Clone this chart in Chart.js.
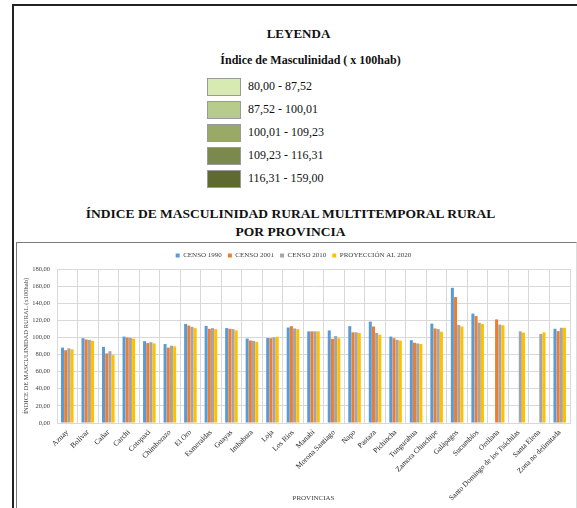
<!DOCTYPE html>
<html>
<head>
<meta charset="utf-8">
<script src="https://cdn.jsdelivr.net/npm/chart.js@4.4.1/dist/chart.umd.min.js"></script>
<style>
  html, body { margin: 0; padding: 0; width: 577px; height: 508px; overflow: hidden; background: #fff; font-family: 'Liberation Serif', serif; color: #111; }
  #frame { position: absolute; left: 12px; top: 4px; width: 620px; height: 620px; border: 2px solid #222; box-sizing: border-box; }
  .ley { position: absolute; left: 0; width: 577px; text-align: center; font-weight: bold; }
  #leyenda { top: 26px; left: 10px; font-size: 13px; }
  #subt { top: 53px; left: 22px; font-size: 12px; }
  .sw { position: absolute; left: 207px; width: 34px; height: 18px; border: 1px solid #9a9a9a; box-sizing: border-box; }
  .swl { position: absolute; left: 248px; font-size: 12px; }
  #title { top: 205px; left: 2px; font-size: 13.5px; line-height: 18px; }
  #chartBox { position: absolute; left: 16px; top: 242px; width: 561px; height: 280px; border: 1.5px solid #7a7a7a; border-right-color: #ddd; box-sizing: border-box; }
  #wrap { position: absolute; left: 17px; top: 245px; width: 559px; height: 263px; }
</style>
</head>
<body>
<div id="frame"></div>
<div class="ley" id="leyenda">LEYENDA</div>
<div class="ley" id="subt">Índice de Masculinidad ( x 100hab)</div>
<div id="legendRows"></div>
<div class="ley" id="title">ÍNDICE DE MASCULINIDAD RURAL MULTITEMPORAL RURAL<br>POR PROVINCIA</div>
<div id="chartBox"></div>
<div id="wrap"><canvas id="chart"></canvas></div>
<script>
// rangos del mapa (leyenda superior)
const rangos = ['80,00 - 87,52', '87,52 - 100,01', '100,01 - 109,23', '109,23 - 116,31', '116,31 - 159,00'];
const rangoColores = ['#d8eab4', '#b6cb8c', '#99aa67', '#7b8a4c', '#5f6a30'];

const provincias = ['Azuay', 'Bolívar', 'Cañar', 'Carchi', 'Cotopaxi', 'Chimborazo', 'El Oro', 'Esmeraldas',
    'Guayas', 'Imbabura', 'Loja', 'Los Ríos', 'Manabí', 'Morona Santiago', 'Napo', 'Pastaza', 'Pichincha',
    'Tungurahua', 'Zamora Chinchipe', 'Galápagos', 'Sucumbíos', 'Orellana', 'Santo Domingo de los Tsáchilas',
    'Santa Elena', 'Zona no delimitada'];

const censo1990 = [88.1, 99.1, 88.9, 101.0, 95.7, 92.3, 115.8, 113.5, 110.9, 98.7, 99.3, 111.6, 107.1, 108.2, 113.2, 118.5, 101.0, 96.8, 116.2, 158.0, 127.9, null, null, null, 110.1];
const censo2001 = [85.1, 97.6, 81.3, 99.9, 93.4, 88.1, 113.9, 110.1, 110.1, 96.4, 99.1, 113.2, 107.1, 98.3, 106.0, 112.8, 99.1, 93.8, 110.5, 147.3, 125.0, 121.1, null, null, 107.4];
const censo2010 = [87.3, 97.2, 83.9, 99.5, 94.5, 90.4, 112.4, 110.9, 109.7, 96.0, 100.2, 110.5, 107.1, 101.7, 106.0, 105.2, 97.2, 93.0, 109.7, 114.7, 117.3, 115.1, 107.1, 104.0, 111.3];
const proy2020  = [86.2, 96.1, 79.4, 98.7, 93.0, 89.6, 110.9, 109.7, 108.2, 94.9, 100.8, 109.7, 107.1, 99.1, 105.2, 103.3, 96.4, 92.3, 106.7, 112.8, 115.8, 114.3, 105.6, 106.0, 111.3];

const yTicks = [0, 20, 40, 60, 80, 100, 120, 140, 160, 180];

// leyenda superior
const rowsEl = document.getElementById('legendRows');
rangos.forEach((r, i) => {
    const top = 78 + i * 23;
    rowsEl.innerHTML += '<div class="sw" style="top:' + top + 'px;background:' + rangoColores[i] + '"></div>'
                      + '<div class="swl" style="top:' + (top + 1) + 'px">' + r + '</div>';
});

const serif = 'Liberation Serif';
const fmt = v => v.toFixed(2).replace('.', ',');

new Chart(document.getElementById('chart'), {
    type: 'bar',
    data: {
        labels: provincias,
        datasets: [
            { label: 'CENSO 1990', data: censo1990, backgroundColor: '#5b9bd5' },
            { label: 'CENSO 2001', data: censo2001, backgroundColor: '#ed7d31' },
            { label: 'CENSO 2010', data: censo2010, backgroundColor: '#a5a5a5' },
            { label: 'PROYECCIÓN AL 2020', data: proy2020, backgroundColor: '#ffc000' }
        ]
    },
    options: {
        responsive: true,
        maintainAspectRatio: false,
        animation: false,
        datasets: { bar: { categoryPercentage: 0.62, barPercentage: 0.95 } },
        layout: { padding: { top: 1, right: 6, bottom: 4, left: 0 } },
        plugins: {
            legend: {
                position: 'top',
                labels: { boxWidth: 4, boxHeight: 4, padding: 6, color: '#404040', font: { family: serif, size: 7 } }
            },
            tooltip: { enabled: false }
        },
        scales: {
            y: {
                min: 0, max: 180,
                afterBuildTicks: s => { s.ticks = yTicks.map(v => ({ value: v })); },
                afterFit: s => { s.width = 40; },
                ticks: { padding: 7, color: '#404040', font: { family: serif, size: 6.5 }, callback: v => fmt(v) },
                grid: { color: '#d9d9d9', drawTicks: false },
                border: { display: false },
                title: { display: true, text: 'ÍNDICE DE MASCULINIDAD RURAL (x100hab)', color: '#404040', font: { family: serif, size: 6.5 }, padding: 5 }
            },
            x: {
                afterFit: s => { s.height = 81; },
                ticks: { minRotation: 45, maxRotation: 45, autoSkip: false, padding: 5, color: '#262626', font: { family: serif, size: 7.5 } },
                grid: { color: '#d9d9d9', drawTicks: false, offset: true },
                border: { color: '#d9d9d9' },
                title: { display: true, text: 'PROVINCIAS', color: '#404040', font: { family: serif, size: 7 }, padding: 2 }
            }
        }
    }
});
</script>
</body>
</html>
